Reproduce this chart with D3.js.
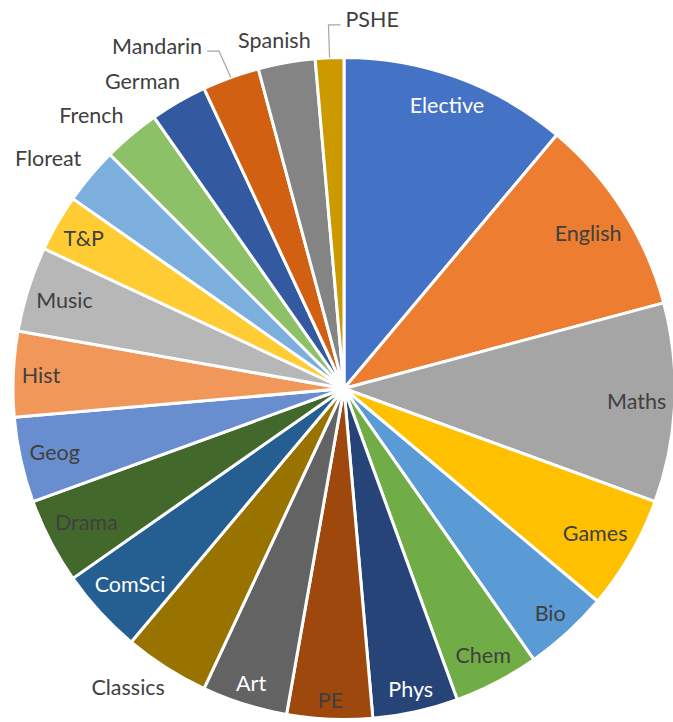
<!DOCTYPE html>
<html>
<head>
<meta charset="utf-8">
<script src="https://cdn.jsdelivr.net/npm/d3@7"></script>
<style>
  html, body { margin: 0; padding: 0; background: #fff; }
  svg text { font-family: Lato, "Open Sans", sans-serif; }
</style>
</head>
<body>
<svg id="chart" width="673" height="722"></svg>
<script>
// ---- data ----
const subjects = ["Elective","English","Maths","Games","Bio","Chem","Phys","PE","Art","Classics",
  "ComSci","Drama","Geog","Hist","Music","T&P","Floreat","French","German","Mandarin","Spanish","PSHE"];
const periods = [8,7,7,4,3,3,3,3,3,3,3,3,3,3,3,2,2,2,2,2,2,1];

// ---- style / layout ----
const colors = ["#4472C4","#ED7D31","#A5A5A5","#FFC000","#5B9BD5","#70AD47",
  "#264478","#9E480E","#636363","#997300","#255E91","#43682B",
  "#698ED0","#F1975A","#B7B7B7","#FFCD33","#7CAFDD","#8CC168",
  "#335AA1","#D26012","#848484","#CC9A00"];
const whiteLabels = new Set(["Elective","Phys","Art","ComSci"]);
const outsideLabels = new Set(["Classics","Floreat","French","German","Mandarin","Spanish","PSHE"]);
const movedLabels = { "Mandarin": [-45, -10], "PSHE": [45, -16] }; // manually moved labels (with leader lines)

const W = 673, H = 722;
const cx = 344, cy = 388.5, R = 331;
const fontSize = 21.5;

const svg = d3.select("#chart");
const g = svg.append("g").attr("transform", `translate(${cx},${cy})`);

const data = subjects.map((s, i) => ({ name: s, value: periods[i], color: colors[i] }));
const pie = d3.pie().value(d => d.value).sort(null);
const arcs = pie(data);
const arc = d3.arc().innerRadius(0).outerRadius(R);

g.selectAll("path.slice").data(arcs).enter().append("path")
  .attr("class", "slice")
  .attr("d", arc)
  .attr("fill", d => d.data.color)
  .attr("stroke", "#fff")
  .attr("stroke-width", 3)
  .attr("stroke-linejoin", "round");

// measure text
function measure(txt) {
  const t = svg.append("text").attr("font-size", fontSize).text(txt);
  const w = t.node().getComputedTextLength();
  t.remove();
  return w;
}
const textH = 20;

arcs.forEach(a => {
  const name = a.data.name;
  const th = (a.startAngle + a.endAngle) / 2;
  const sx = Math.sin(th), sy = -Math.cos(th);
  const w = measure(name);
  let x, y;
  if (!outsideLabels.has(name)) {
    const proj = (w / 2) * Math.abs(sx) + (textH / 2) * Math.abs(sy);
    const t = R - 8 - proj;
    x = t * sx; y = t * sy;
  } else {
    const ar = R + 12;
    const ax = ar * sx, ay = ar * sy;
    const kx = Math.min(1, 1.6 * Math.abs(sx));
    const ky = Math.min(1, 1.6 * Math.abs(sy));
    x = ax + Math.sign(sx) * (w / 2) * kx;
    y = ay + Math.sign(sy) * (textH / 2) * ky;
    if (movedLabels[name]) {
      x += movedLabels[name][0];
      y += movedLabels[name][1];
      // leader line: from label side to slice edge
      const px = R * sx, py = R * sy;
      const side = px > x ? 1 : -1;
      const lx0 = x + side * (w / 2 + 5);
      const lx1 = lx0 + side * 12;
      const ly = y + 5;
      g.append("polyline")
        .attr("points", `${lx0},${ly} ${lx1},${ly} ${px},${py}`)
        .attr("fill", "none")
        .attr("stroke", "#A6A6A6")
        .attr("stroke-width", 1.2);
    }
  }
  g.append("text")
    .attr("x", x).attr("y", y)
    .attr("dy", "0.35em")
    .attr("text-anchor", "middle")
    .attr("font-size", fontSize)
    .attr("fill", whiteLabels.has(name) ? "#ffffff" : "#404040")
    .text(name);
});
</script>
</body>
</html>
